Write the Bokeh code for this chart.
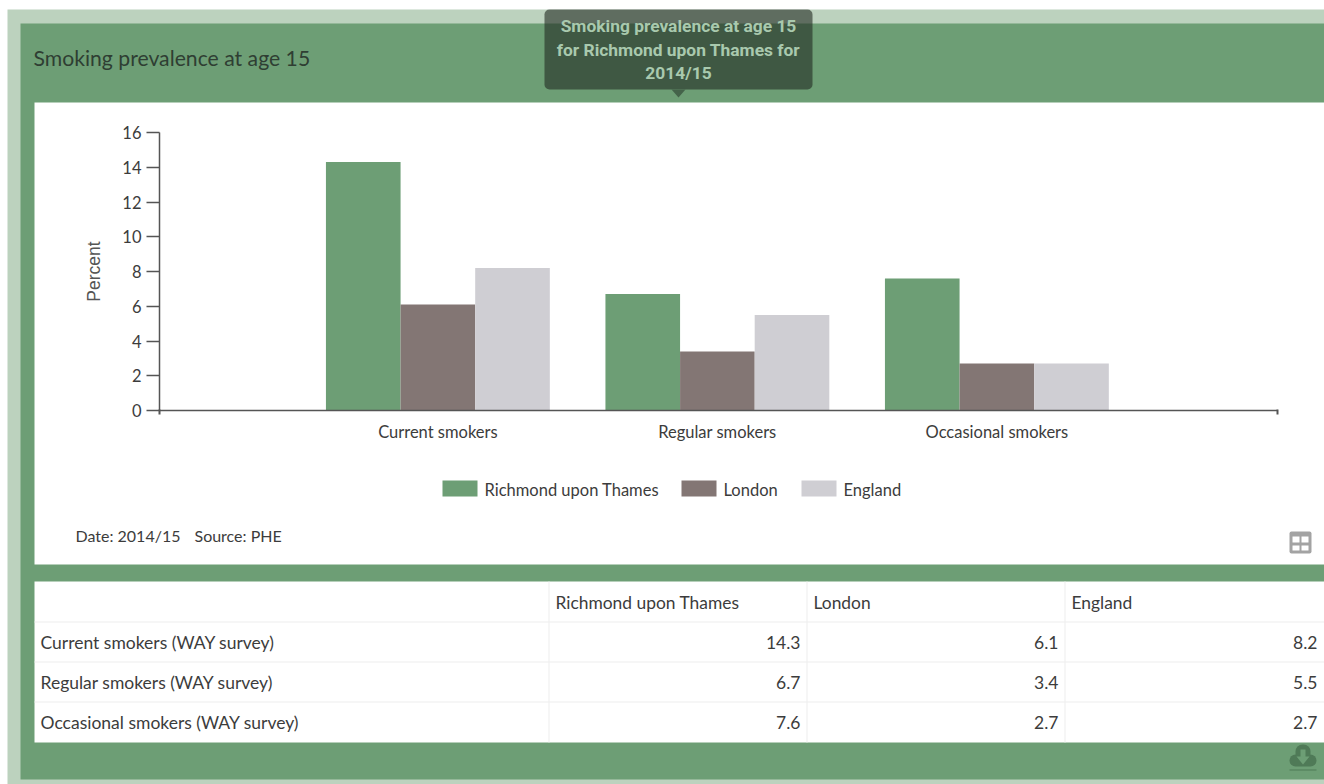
from bokeh.core.properties import value
from bokeh.embed import file_html
from bokeh.layouts import column
from bokeh.resources import INLINE
from bokeh.plotting import figure
from bokeh.models import FixedTicker, Range1d

# Survey results, percent of 15-year-olds
categories = ["Current smokers", "Regular smokers", "Occasional smokers"]
areas = ["Richmond upon Thames", "London", "England"]
richmond = [14.3, 6.7, 7.6]
london = [6.1, 3.4, 2.7]
england = [8.2, 5.5, 2.7]
y_ticks = [0, 2, 4, 6, 8, 10, 12, 14, 16]

title_text = "Smoking prevalence at age 15"
tooltip_lines = ["Smoking prevalence at age 15", "for Richmond upon Thames for", "2014/15"]
date_text = "Date: 2014/15"
source_text = "Source: PHE"

GREEN = "#6d9e75"
BROWN = "#837674"
GREY = "#cfced3"
ICON = "#4f7a57"
RULE = "#eeeeee"
TEXT = "#3c3c3c"
AXIS = "#555555"
PAGE_W, PAGE_H = 1324, 784
LEFT, RIGHT, TOP, BOTTOM = 159, 1277, 132, 410

# Page layer: panels, table, legend and notes, laid out in page pixels
page = figure(width=PAGE_W, height=PAGE_H, output_backend="svg", toolbar_location=None,
              x_range=Range1d(1, PAGE_W + 1), y_range=Range1d(PAGE_H + 1, 1),
              x_axis_location=None, y_axis_location=None, min_border=0,
              background_fill_color="white", border_fill_color="white",
              outline_line_color=None, frame_align=False)
page.grid.visible = False


def box(l, t, r, b, color, alpha=1.0, radius=0):
    page.quad(left=[l], right=[r], top=[t], bottom=[b], fill_color=color, fill_alpha=alpha,
              line_color=None, border_radius=radius)


def poly(xs, ys, color, alpha=1.0):
    page.patch(xs, ys, fill_color=color, fill_alpha=alpha, line_color=None)


def text(x, y, s, size=16.5, color=TEXT, align="left", font="Lato", style="normal"):
    page.text(x=[x], y=[y], text=[s], text_font=value(font), text_font_size=value(f"{size}px"),
              text_color=color, text_align=align, text_baseline="middle", text_font_style=style)


box(8, 10, PAGE_W + 1, PAGE_H + 1, "#bcd2be")
box(21, 24, PAGE_W + 1, 780, GREEN)
box(35, 103, PAGE_W + 1, 565, "white")
box(35, 582, PAGE_W + 1, 743, "white")

# Headings and notes
text(34, 58, title_text, size=21.2, color="#2f3e33")
text(76, 536, date_text, size=16)
text(195, 536, source_text, size=16)

# Legend
legend_swatches = [443, 682, 802]
for l, name, color in zip(legend_swatches, areas, (GREEN, BROWN, GREY)):
    box(l, 481, l + 35, 497, color)
    text(l + 42, 490, name)

# Table of the same values
for y in (622, 662, 702):
    box(35, y, PAGE_W + 1, y + 1, RULE)
col_edges = [549, 807, 1065]
for e in col_edges:
    box(e, 582, e + 1, 743, RULE)
for e, name in zip(col_edges, areas):
    text(e + 7, 603, name, size=17.4)
row_centres = [643, 683, 723]
for i, (c, y) in enumerate(zip(categories, row_centres)):
    text(41, y, f"{c} (WAY survey)", size=17.5)
    for e, values in zip(col_edges[1:] + [PAGE_W], (richmond, london, england)):
        text(e - 6, y, f"{values[i]:.1f}", size=17.5, align="right")

# Table toggle icon
box(1290, 532, 1312, 554, "#a3a3a3", radius=2)
for l, r in ((1293, 1300), (1302, 1309)):
    for t, b in ((537, 543), (546, 551)):
        box(l, t, r, b, "white")

# Download icon
box(1290, 755, 1317, 767, ICON, radius=6)
box(1296, 745, 1311, 761, ICON, radius=7)
box(1301, 750, 1306, 758, GREEN)
poly([1297, 1310, 1303.5], [757, 757, 765], GREEN)
box(1290, 770, 1317, 771, ICON)

# Tooltip over the panel header
box(545, 10, 813, 90, "#222a22", alpha=0.6, radius=5)
poly([672, 686, 679], [90, 90, 98], "#44634a")
for y, line in zip((26, 50, 73), tooltip_lines):
    text(679, y, line, size=17.4, color="#a9c9ae", align="center", font="Roboto", style="bold")

# End marks of the axis lines
box(159, 410, 161, 415, AXIS)
box(1277, 410, 1279, 415, AXIS)

# Chart layer: bars and axes, transparent over the page layer
p = figure(width=PAGE_W, height=PAGE_H, output_backend="svg", toolbar_location=None,
           x_range=Range1d(0.004, 4.004), y_range=Range1d(0, 16),
           min_border_left=LEFT, min_border_right=PAGE_W - RIGHT,
           min_border_top=TOP, min_border_bottom=PAGE_H - BOTTOM,
           background_fill_color=None, border_fill_color=None, outline_line_color=None,
           margin=(-PAGE_H, 0, 0, 0), frame_align=False)
p.grid.visible = False

bar_w = 0.267
for offset, values, color in zip((-bar_w, 0, bar_w), (richmond, london, england),
                                 (GREEN, BROWN, GREY)):
    p.vbar(x=[i + 1 + offset for i in range(len(categories))], top=values, bottom=0,
           width=bar_w, fill_color=color, line_color=None)

xa = p.xaxis[0]
xa.ticker = FixedTicker(ticks=[1, 2, 3])
xa.major_label_overrides = {i + 1: c for i, c in enumerate(categories)}
xa.major_tick_out = 0
xa.major_tick_in = 0
xa.minor_tick_out = 0
xa.minor_tick_in = 0
xa.major_label_standoff = 11
xa.major_label_text_font = "Lato"
xa.major_label_text_font_size = "16.5px"
xa.major_label_text_color = TEXT
xa.axis_line_color = AXIS
xa.axis_line_width = 1.5

ya = p.yaxis[0]
ya.ticker = FixedTicker(ticks=y_ticks)
ya.major_tick_out = 13
ya.major_tick_in = 0
ya.minor_tick_out = 0
ya.minor_tick_in = 0
ya.major_tick_line_color = AXIS
ya.major_tick_line_width = 1.5
ya.major_label_standoff = 5
ya.major_label_text_font = "Lato"
ya.major_label_text_font_size = "16.5px"
ya.major_label_text_color = TEXT
ya.axis_line_color = AXIS
ya.axis_line_width = 1.5
ya.axis_label = "Percent"
ya.axis_label_text_font = "Liberation Sans"
ya.axis_label_text_font_style = "normal"
ya.axis_label_text_font_size = "17.5px"
ya.axis_label_text_color = AXIS
ya.axis_label_standoff = 15

layout = column(page, p, spacing=0, margin=0)
open("out.html", "w").write(file_html(layout, INLINE))
